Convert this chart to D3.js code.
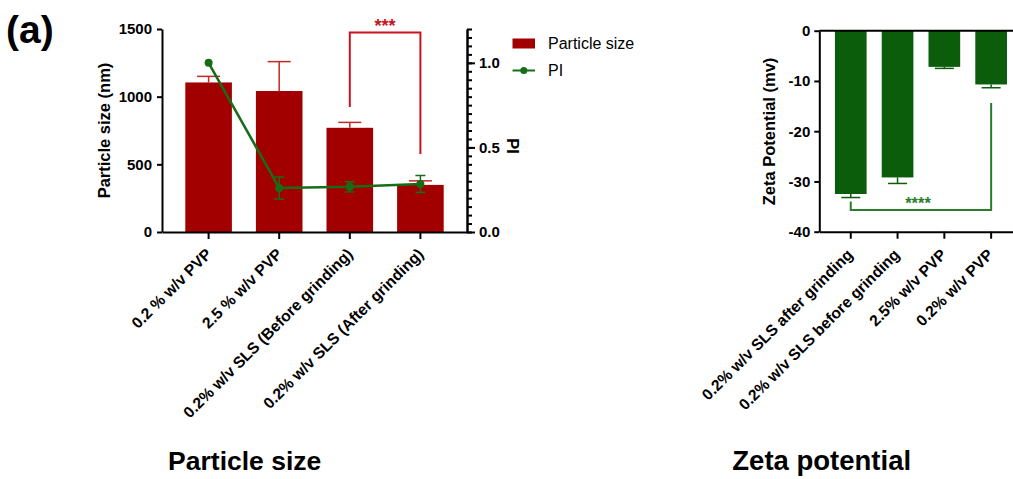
<!DOCTYPE html>
<html>
<head>
<meta charset="utf-8">
<script src="https://cdn.jsdelivr.net/npm/d3@7"></script>
<style>
    body { margin: 0; background: #fff; }
    svg { display: block; font-family: "Liberation Sans", Arial, sans-serif; }
    .tick text { font-family: "Liberation Sans", Arial, sans-serif; font-size: 15px; font-weight: bold; fill: #000; }
    .xlab .tick text { font-size: 15.7px; }
    .axis path, .axis line { stroke: #000; stroke-width: 2; }
</style>
</head>
<body>
<div id="chart"></div>
<script>
// particle size panel
let psCats = ["0.2 % w/v PVP", "2.5 % w/v PVP", "0.2% w/v SLS (Before grinding)", "0.2% w/v SLS (After grinding)"];
let psSize = [1105, 1042, 770, 348];
let psSizeErr = [45, 217, 40, 30];
let psPI = [1.0, 0.26, 0.267, 0.284];
let psPIErr = [0, 0.065, 0.03, 0.05];
let psTicks = [0, 500, 1000, 1500];
let piTicks = [0, 0.5, 1.0];

// zeta potential panel
let zpCats = ["0.2% w/v SLS after grinding", "0.2% w/v SLS before grinding", "2.5% w/v PVP", "0.2% w/v PVP"];
let zpVals = [-32.5, -29.2, -7.2, -10.7];
let zpErr = [0.7, 1.2, 0.3, 0.65];
let zpTicks = [0, -10, -20, -30, -40];

const W = 1013, H = 479;
const RED = "#a20000", RED_ERR = "#c62828", RED_SIG = "#c8141e";
const GREEN = "#0b5c0b", GREEN_LINE = "#176c17", GREEN_SIG = "#2b7d2b";

let svg = d3.select("#chart").append("svg")
    .attr("width", W)
    .attr("height", H);

// panel letter
svg.append("text")
    .attr("x", 6).attr("y", 43)
    .style("font-size", "39px").style("font-weight", "bold")
    .text("(a)");

/* * * * * particle size * * * * */
let xL = d3.scaleBand().domain(psCats).range([162, 467]).paddingInner(0.34).paddingOuter(0.33);
let yL = d3.scaleLinear().domain([0, 1500]).range([232, 29]);
let yPI = d3.scaleLinear().domain([0, 1.2]).range([232, 29]);

let gL = svg.append("g");

gL.selectAll(".bar").data(psCats).enter().append("rect")
    .attr("x", d => xL(d))
    .attr("y", (d, i) => yL(psSize[i]))
    .attr("width", xL.bandwidth())
    .attr("height", (d, i) => yL(0) - yL(psSize[i]))
    .attr("fill", RED);

// upper error bars
psCats.forEach((d, i) => {
    let cx = xL(d) + xL.bandwidth() / 2;
    gL.append("line")
        .attr("x1", cx).attr("x2", cx)
        .attr("y1", yL(psSize[i])).attr("y2", yL(psSize[i] + psSizeErr[i]))
        .attr("stroke", RED_ERR).attr("stroke-width", 1.5);
    gL.append("line")
        .attr("x1", cx - 11.5).attr("x2", cx + 11.5)
        .attr("y1", yL(psSize[i] + psSizeErr[i])).attr("y2", yL(psSize[i] + psSizeErr[i]))
        .attr("stroke", RED_ERR).attr("stroke-width", 1.5);
});

// axes
gL.append("g").attr("class", "axis")
    .attr("transform", "translate(162,0)")
    .call(d3.axisLeft(yL).tickValues(psTicks).tickSize(5).tickSizeOuter(0).tickPadding(5).tickFormat(d => String(d)));

gL.append("g").attr("class", "axis")
    .attr("transform", "translate(467,0)")
    .call(d3.axisRight(yPI).tickValues(d3.range(0, 1.2001, 0.05)).tickSize(5).tickSizeOuter(0).tickFormat(""));

gL.append("g").attr("class", "axis")
    .attr("transform", "translate(467,0)")
    .call(d3.axisRight(yPI).tickValues(piTicks).tickSize(8).tickSizeOuter(0).tickPadding(4).tickFormat(d3.format(".1f")));

let xAxL = gL.append("g").attr("class", "axis xlab")
    .attr("transform", "translate(0,232)")
    .call(d3.axisBottom(xL).tickSize(7).tickSizeOuter(0));
xAxL.selectAll("text")
    .attr("text-anchor", "end")
    .attr("x", 0).attr("y", 0).attr("dy", 0)
    .attr("transform", "translate(4,23) rotate(-45)");

// PI line + points
let piLine = d3.line()
    .x((d, i) => xL(psCats[i]) + xL.bandwidth() / 2)
    .y(d => yPI(d));

gL.append("path")
    .datum(psPI)
    .attr("d", piLine)
    .attr("fill", "none")
    .attr("stroke", GREEN_LINE)
    .attr("stroke-width", 2.5);

psPI.forEach((v, i) => {
    if (psPIErr[i] <= 0) return;
    let cx = xL(psCats[i]) + xL.bandwidth() / 2;
    gL.append("line")
        .attr("x1", cx).attr("x2", cx)
        .attr("y1", yPI(v - psPIErr[i])).attr("y2", yPI(v + psPIErr[i]))
        .attr("stroke", GREEN_LINE).attr("stroke-width", 1.5);
    [v - psPIErr[i], v + psPIErr[i]].forEach(e => {
        gL.append("line")
            .attr("x1", cx - 5).attr("x2", cx + 5)
            .attr("y1", yPI(e)).attr("y2", yPI(e))
            .attr("stroke", GREEN_LINE).attr("stroke-width", 1.5);
    });
});

gL.selectAll(".dot").data(psPI).enter().append("circle")
    .attr("cx", (d, i) => xL(psCats[i]) + xL.bandwidth() / 2)
    .attr("cy", d => yPI(d))
    .attr("r", 4)
    .attr("fill", GREEN_LINE);

// significance bracket ***
let b3 = xL(psCats[2]) + xL.bandwidth() / 2, b4 = xL(psCats[3]) + xL.bandwidth() / 2;
gL.append("path")
    .attr("d", `M${b3},107 V32.5 H${b4} V154`)
    .attr("fill", "none").attr("stroke", RED_SIG).attr("stroke-width", 2);
gL.append("text")
    .attr("x", (b3 + b4) / 2).attr("y", 32)
    .attr("text-anchor", "middle")
    .style("font-size", "18px").style("font-weight", "bold")
    .attr("fill", RED_SIG)
    .text("***");

// axis titles
gL.append("text")
    .attr("transform", "translate(110,130.5) rotate(-90)")
    .attr("text-anchor", "middle")
    .style("font-size", "16.5px").style("font-weight", "bold")
    .text("Particle size (nm)");

gL.append("text")
    .attr("transform", "translate(507,146) rotate(90)")
    .attr("text-anchor", "middle")
    .style("font-size", "16.5px").style("font-weight", "bold")
    .text("PI");

// legend
let leg = svg.append("g");
leg.append("rect")
    .attr("x", 512.5).attr("y", 38.5).attr("width", 22.5).attr("height", 10)
    .attr("fill", RED);
leg.append("text")
    .attr("x", 548).attr("y", 48.5)
    .style("font-size", "16px")
    .text("Particle size");
leg.append("line")
    .attr("x1", 512.5).attr("x2", 535).attr("y1", 70.5).attr("y2", 70.5)
    .attr("stroke", GREEN_LINE).attr("stroke-width", 2);
leg.append("circle")
    .attr("cx", 523.8).attr("cy", 70.5).attr("r", 3.5)
    .attr("fill", GREEN_LINE);
leg.append("text")
    .attr("x", 548).attr("y", 76)
    .style("font-size", "16px")
    .text("PI");

svg.append("text")
    .attr("x", 244.7).attr("y", 470)
    .attr("text-anchor", "middle")
    .style("font-size", "26.5px").style("font-weight", "bold")
    .text("Particle size");

/* * * * * zeta potential * * * * */
let xR = d3.scaleBand().domain(zpCats).range([819.3, 1022.6]).paddingInner(0.323).paddingOuter(0.334);
let yR = d3.scaleLinear().domain([-40, 0]).range([231.7, 30.7]);

let gR = svg.append("g");

gR.selectAll(".bar").data(zpCats).enter().append("rect")
    .attr("x", d => xR(d))
    .attr("y", yR(0))
    .attr("width", xR.bandwidth())
    .attr("height", (d, i) => yR(zpVals[i]) - yR(0))
    .attr("fill", GREEN);

zpCats.forEach((d, i) => {
    let cx = xR(d) + xR.bandwidth() / 2;
    let e = zpVals[i] - zpErr[i];
    gR.append("line")
        .attr("x1", cx).attr("x2", cx)
        .attr("y1", yR(zpVals[i])).attr("y2", yR(e))
        .attr("stroke", GREEN).attr("stroke-width", 1.5);
    gR.append("line")
        .attr("x1", cx - 9.5).attr("x2", cx + 9.5)
        .attr("y1", yR(e)).attr("y2", yR(e))
        .attr("stroke", GREEN).attr("stroke-width", 1.5);
});

gR.append("g").attr("class", "axis")
    .attr("transform", "translate(819.3,0)")
    .call(d3.axisLeft(yR).tickValues(zpTicks).tickSize(5).tickSizeOuter(0).tickPadding(4).tickFormat(d => String(d)));

// zero line on top
gR.append("line")
    .attr("x1", 819.3).attr("x2", 1022.6)
    .attr("y1", yR(0)).attr("y2", yR(0))
    .attr("stroke", "#000").attr("stroke-width", 2);

let xAxR = gR.append("g").attr("class", "axis xlab")
    .attr("transform", "translate(0,231.7)")
    .call(d3.axisBottom(xR).tickSize(7).tickSizeOuter(0));
xAxR.selectAll("text")
    .attr("text-anchor", "end")
    .attr("x", 0).attr("y", 0).attr("dy", 0)
    .attr("transform", "translate(3,24) rotate(-45)");

// significance bracket ****
let z1 = xR(zpCats[0]) + xR.bandwidth() / 2, z4 = xR(zpCats[3]) + xR.bandwidth() / 2;
gR.append("path")
    .attr("d", `M${z1},201.5 V210 H${z4} V103`)
    .attr("fill", "none").attr("stroke", GREEN_SIG).attr("stroke-width", 2);
gR.append("text")
    .attr("x", 918).attr("y", 208.5)
    .attr("text-anchor", "middle")
    .style("font-size", "16.5px").style("font-weight", "bold")
    .attr("fill", GREEN_SIG)
    .text("****");

gR.append("text")
    .attr("transform", "translate(775,131.5) rotate(-90)")
    .attr("text-anchor", "middle")
    .style("font-size", "16.5px").style("font-weight", "bold")
    .text("Zeta Potential (mv)");

svg.append("text")
    .attr("x", 821.7).attr("y", 470)
    .attr("text-anchor", "middle")
    .style("font-size", "27.5px").style("font-weight", "bold")
    .text("Zeta potential");
</script>
</body>
</html>
